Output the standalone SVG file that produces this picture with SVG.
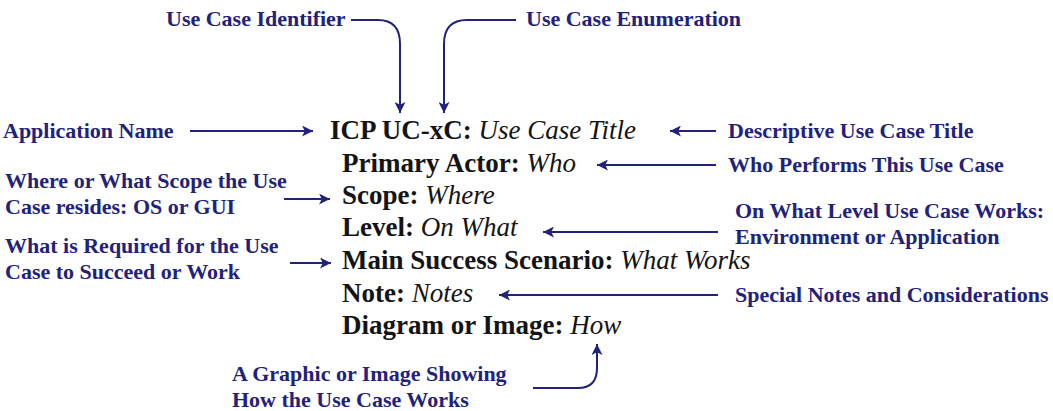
<svg xmlns="http://www.w3.org/2000/svg" width="1053" height="411" viewBox="0 0 1053 411">
  <style>
    .lbl { font-family: "Liberation Serif", "Times New Roman", serif; font-weight: bold; font-size: 22px; fill: #22227a; }
    .main { font-family: "Liberation Serif", "Times New Roman", serif; font-size: 27px; fill: #141414; }
    .b { font-weight: bold; }
    .i { font-style: italic; }
    .wire { fill: none; stroke: #22227a; stroke-width: 2; }
  </style>
  <defs>
    <marker id="arrow" markerUnits="userSpaceOnUse" markerWidth="11" markerHeight="11" refX="10" refY="5" orient="auto" viewBox="0 0 10 10">
      <path d="M0,0 L10,5 L0,10 L2.5,5 z" fill="#22227a"/>
    </marker>
  </defs>
  <rect width="1053" height="411" fill="#ffffff"/>

  <!-- use case template -->
  <g id="template">
    <text class="main" x="330" y="139"><tspan class="b">ICP UC-xC: </tspan><tspan class="i">Use Case Title</tspan></text>
    <text class="main" x="342" y="172"><tspan class="b">Primary Actor: </tspan><tspan class="i">Who</tspan></text>
    <text class="main" x="342" y="204"><tspan class="b">Scope: </tspan><tspan class="i">Where</tspan></text>
    <text class="main" x="342" y="236"><tspan class="b">Level: </tspan><tspan class="i">On What</tspan></text>
    <text class="main" x="342" y="269"><tspan class="b">Main Success Scenario: </tspan><tspan class="i">What Works</tspan></text>
    <text class="main" x="342" y="302"><tspan class="b">Note: </tspan><tspan class="i">Notes</tspan></text>
    <text class="main" x="342" y="334"><tspan class="b">Diagram or Image: </tspan><tspan class="i">How</tspan></text>
  </g>

  <!-- annotations -->
  <g id="use-case-identifier">
    <text class="lbl" x="166" y="26">Use Case Identifier</text>
  </g>
  <g id="use-case-enumeration">
    <text class="lbl" x="526" y="26">Use Case Enumeration</text>
  </g>
  <g id="application-name">
    <text class="lbl" x="3" y="138">Application Name</text>
  </g>
  <g id="scope-note">
    <text class="lbl" x="5" y="188">Where or What Scope the Use</text>
    <text class="lbl" x="5" y="214">Case resides: OS or GUI</text>
  </g>
  <g id="scenario-note">
    <text class="lbl" x="5" y="253">What is Required for the Use</text>
    <text class="lbl" x="5" y="279">Case to Succeed or Work</text>
  </g>
  <g id="title-note">
    <text class="lbl" x="728" y="138">Descriptive Use Case Title</text>
  </g>
  <g id="actor-note">
    <text class="lbl" x="728" y="172">Who Performs This Use Case</text>
  </g>
  <g id="level-note">
    <text class="lbl" x="735" y="218">On What Level Use Case Works:</text>
    <text class="lbl" x="735" y="244">Environment or Application</text>
  </g>
  <g id="notes-note">
    <text class="lbl" x="735" y="302">Special Notes and Considerations</text>
  </g>
  <g id="diagram-note">
    <text class="lbl" x="232" y="381">A Graphic or Image Showing</text>
    <text class="lbl" x="232" y="407">How the Use Case Works</text>
  </g>

  <!-- connectors -->
  <g id="connectors">
    <path class="wire" marker-end="url(#arrow)" d="M351,20 H378 Q400,20 400,44 V113"/>
    <path class="wire" marker-end="url(#arrow)" d="M516,20 H467 Q444,20 444,44 V113"/>
    <path class="wire" marker-end="url(#arrow)" d="M190,131 H313"/>
    <path class="wire" marker-end="url(#arrow)" d="M716,131 H670"/>
    <path class="wire" marker-end="url(#arrow)" d="M716,165 H597"/>
    <path class="wire" marker-end="url(#arrow)" d="M284,199 H330"/>
    <path class="wire" marker-end="url(#arrow)" d="M718,232 H543"/>
    <path class="wire" marker-end="url(#arrow)" d="M290,263 H331"/>
    <path class="wire" marker-end="url(#arrow)" d="M718,295 H499"/>
    <path class="wire" marker-end="url(#arrow)" d="M533,388 H578 Q597,388 597,368 V344"/>
  </g>
</svg>
